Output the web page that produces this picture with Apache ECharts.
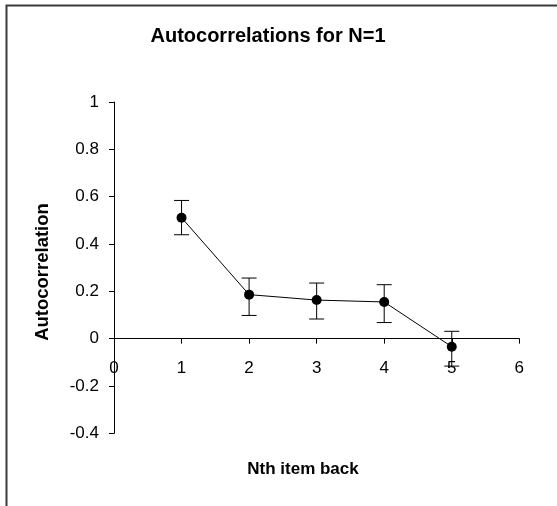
<!DOCTYPE html>
<html>
<head>
<meta charset="utf-8">
<script src="https://cdn.jsdelivr.net/npm/echarts@6/dist/echarts.min.js"></script>
<style>
  html, body { margin: 0; padding: 0; background: #fff; }
  #chart { width: 557px; height: 506px; }
</style>
</head>
<body>
<div id="chart"></div>
<script>
// Lag (number of items back) and the autocorrelation measured at each lag
const lags = [1, 2, 3, 4, 5];
const autocorr = [0.511, 0.186, 0.163, 0.155, -0.034];
// Error bar extents around each value
const upperBound = [0.584, 0.256, 0.235, 0.228, 0.031];
const lowerBound = [0.439, 0.098, 0.083, 0.068, -0.116];

const titleText = 'Autocorrelations for N=1';
const xAxisTitle = 'Nth item back';
const yAxisTitle = 'Autocorrelation';

const FONT = '"Liberation Sans", Arial, sans-serif';

const chart = echarts.init(document.getElementById('chart'), null, { renderer: 'canvas' });

const pointData = lags.map((x, i) => [x, autocorr[i]]);
const barData = lags.map((x, i) => [x, lowerBound[i], upperBound[i]]);

chart.setOption({
  backgroundColor: '#ffffff',
  animation: false,
  grid: { left: 114, top: 102, width: 405.3, height: 331.3 },
  xAxis: {
    type: 'value',
    min: 0, max: 6, interval: 1,
    axisLine: { onZero: true, lineStyle: { color: '#000', width: 1 } },
    axisTick: { show: true, inside: false, length: 5, lineStyle: { color: '#000' } },
    // labels sit just under the zero line
    axisLabel: { color: '#000', fontFamily: FONT, fontSize: 17, margin: -73 },
    splitLine: { show: false }
  },
  yAxis: {
    type: 'value',
    min: -0.4, max: 1, interval: 0.2,
    axisLine: { show: true, lineStyle: { color: '#000', width: 1 } },
    axisTick: { show: true, inside: false, length: 5, lineStyle: { color: '#000' } },
    axisLabel: { color: '#000', fontFamily: FONT, fontSize: 17, margin: 15 },
    splitLine: { show: false }
  },
  graphic: [
    {
      type: 'polyline',
      shape: { points: [[6.5, 600], [6.5, 5.5], [600, 5.5]] },
      style: { stroke: '#3a3a3a', lineWidth: 2, fill: null },
      silent: true
    },
    {
      type: 'text', x: 268, y: 36,
      style: { text: titleText, font: 'bold 20px ' + FONT, fill: '#000', textAlign: 'center', textVerticalAlign: 'middle' }
    },
    {
      type: 'text', x: 303, y: 469,
      style: { text: xAxisTitle, font: 'bold 17px ' + FONT, fill: '#000', textAlign: 'center', textVerticalAlign: 'middle' }
    },
    {
      type: 'text', x: 43, y: 272, rotation: Math.PI / 2,
      style: { text: yAxisTitle, font: 'bold 18.5px ' + FONT, fill: '#000', textAlign: 'center', textVerticalAlign: 'middle' }
    }
  ],
  series: [
    {
      type: 'custom',
      z: 2,
      data: barData,
      renderItem: function (params, api) {
        const x = api.value(0);
        const lo = api.coord([x, api.value(1)]);
        const hi = api.coord([x, api.value(2)]);
        const half = 7.5;
        const st = { stroke: '#000', lineWidth: 1 };
        return {
          type: 'group',
          children: [
            { type: 'line', shape: { x1: lo[0], y1: lo[1], x2: hi[0], y2: hi[1] }, style: st },
            { type: 'line', shape: { x1: hi[0] - half, y1: hi[1], x2: hi[0] + half, y2: hi[1] }, style: st },
            { type: 'line', shape: { x1: lo[0] - half, y1: lo[1], x2: lo[0] + half, y2: lo[1] }, style: st }
          ]
        };
      }
    },
    {
      type: 'line',
      z: 3,
      data: pointData,
      symbol: 'circle',
      symbolSize: 10,
      itemStyle: { color: '#000' },
      lineStyle: { color: '#000', width: 1 }
    }
  ]
});
</script>
</body>
</html>
